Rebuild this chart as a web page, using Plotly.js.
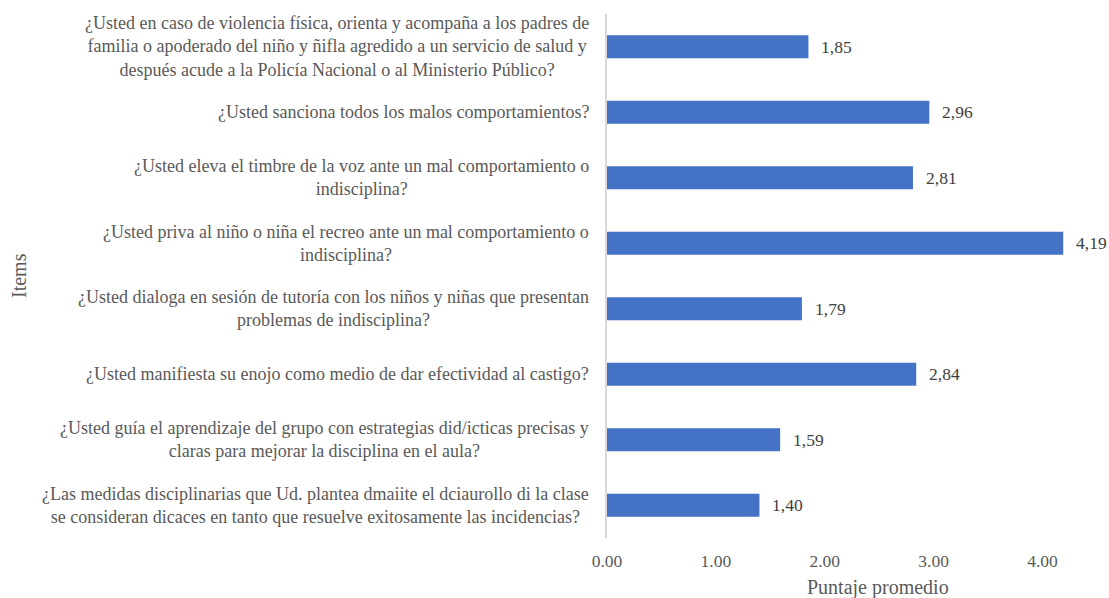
<!DOCTYPE html>
<html>
<head>
<meta charset="utf-8">
<script src="https://cdn.plot.ly/plotly-3.0.1.min.js"></script>
<style>html,body{margin:0;padding:0;background:#fff;}#chart{width:1109px;height:598px;}</style>
</head>
<body>
<div id="chart"></div>
<script>
const categories = [
  "¿Usted en caso de violencia física, orienta y acompaña a los padres de<br>familia o apoderado del niño y ñifla agredido a un servicio de salud y<br>después acude a la Policía Nacional o al Ministerio Público?",
  "¿Usted sanciona todos los malos comportamientos?",
  "¿Usted eleva el timbre de la voz ante un mal comportamiento o<br>indisciplina?",
  "¿Usted priva al niño o niña el recreo ante un mal comportamiento o<br>indisciplina?",
  "¿Usted dialoga en sesión de tutoría con los niños y niñas que presentan<br>problemas de indisciplina?",
  "¿Usted manifiesta su enojo como medio de dar efectividad al castigo?",
  "¿Usted guía el aprendizaje del grupo con estrategias did/icticas precisas y<br>claras para mejorar la disciplina en el aula?",
  "¿Las medidas disciplinarias que Ud. plantea dmaiite el dciaurollo di la clase<br>se consideran dicaces en tanto que resuelve exitosamente las incidencias?"
];
const values = [1.85, 2.96, 2.81, 4.19, 1.79, 2.84, 1.59, 1.40];
const tickValues = [0, 1, 2, 3, 4];
const xTitle = "Puntaje promedio";
const yTitle = "Items";

const serif = "Liberation Serif";
const idx = categories.map((c, i) => i);

const trace = {
  type: 'bar',
  orientation: 'h',
  x: values,
  y: idx,
  marker: {color: '#4472c4'},
  hoverinfo: 'x'
};

const annotations = [];
categories.forEach((c, i) => {
  annotations.push({
    xref: 'paper', yref: 'y', x: -0.033, y: i,
    text: c, showarrow: false, xanchor: 'right', yanchor: 'middle', align: 'center',
    font: {family: serif, size: 18, color: '#595959'}
  });
  annotations.push({
    xref: 'x', yref: 'y', x: values[i], y: i,
    text: values[i].toFixed(2).replace('.', ','), showarrow: false,
    xanchor: 'left', yanchor: 'middle', xshift: 11,
    font: {family: serif, size: 17.5, color: '#404040'}
  });
});
annotations.push({
  xref: 'paper', yref: 'paper', x: 0.553, y: -0.095,
  text: xTitle, showarrow: false, xanchor: 'center', yanchor: 'middle',
  font: {family: serif, size: 20, color: '#595959'}
});
annotations.push({
  xref: 'paper', yref: 'paper', x: -1.2, y: 0.5,
  text: yTitle, showarrow: false, textangle: -90, xanchor: 'center', yanchor: 'middle',
  font: {family: serif, size: 20, color: '#595959'}
});

const layout = {
  width: 1109, height: 598,
  margin: {l: 607, r: 12, t: 14, b: 60},
  paper_bgcolor: '#ffffff', plot_bgcolor: '#ffffff',
  font: {family: serif},
  bargap: 0.648,
  showlegend: false,
  xaxis: {
    range: [0, 4.5], tickvals: tickValues, tickformat: '.2f',
    showgrid: false, zeroline: false, showline: false, ticks: '',
    ticklabelstandoff: 10,
    tickfont: {family: serif, size: 17.5, color: '#595959'}
  },
  yaxis: {
    type: 'linear', range: [categories.length - 0.5, -0.5],
    showticklabels: false, showgrid: false, zeroline: false,
    showline: true, linecolor: '#d9d9d9', linewidth: 2, ticks: ''
  },
  annotations: annotations
};

Plotly.newPlot('chart', [trace], layout, {displayModeBar: false, staticPlot: true});
</script>
</body>
</html>
